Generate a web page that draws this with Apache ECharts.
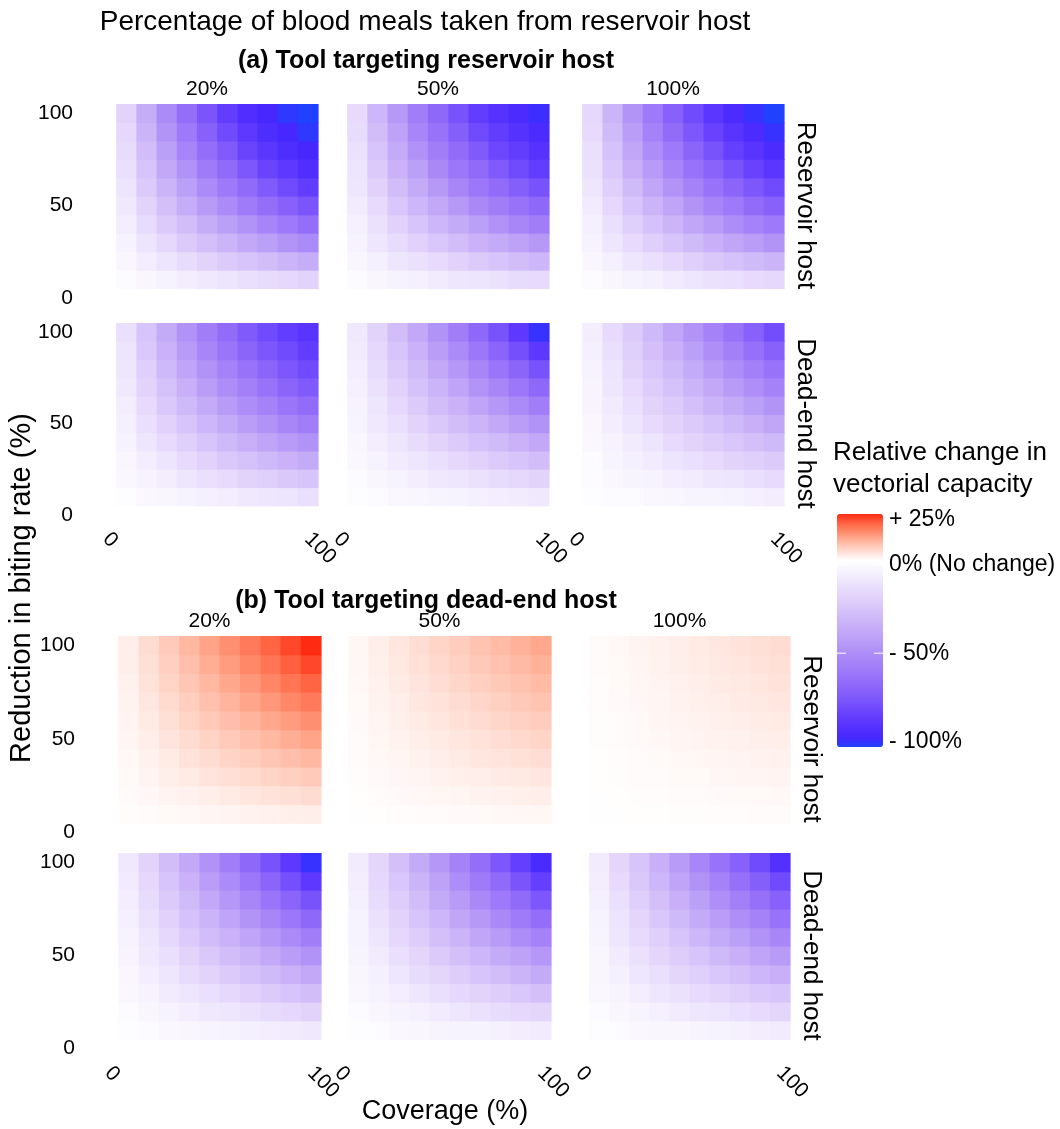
<!DOCTYPE html>
<html><head><meta charset="utf-8">
<script src="https://cdn.jsdelivr.net/npm/echarts@6/dist/echarts.min.js"></script>
<style>html,body{margin:0;padding:0;background:#fff}#c{width:1060px;height:1129px}</style>
</head><body><div id="c"></div>
<script>
// ---------------- data ----------------
const coverage = [0,10,20,30,40,50,60,70,80,90,100];
const reduction = [0,10,20,30,40,50,60,70,80,90,100];
const mealShares = ['20%','50%','100%'];
const hostRows = ['Reservoir host','Dead-end host'];
const sectionTitles = ['(a) Tool targeting reservoir host','(b) Tool targeting dead-end host'];
const xTickValues = [0,100];
const yTickValues = [0,50,100];
const legendValues = [25,0,-50,-100];
const legendLabels = ['+ 25%','0% (No change)','- 50%','- 100%'];

// each grid: rows = reduction 0..100, columns = coverage 0..100 ; value = relative change (%)
const a_res_20 = [
[0,0,0,0,0,0,0,0,0,0,0],
[0,-2,-4,-6,-8,-10,-12,-14,-15,-17,-19],
[0,-4,-8,-12,-15,-19,-23,-26,-29,-33,-36],
[0,-6,-12,-17,-23,-28,-33,-38,-42,-47,-51],
[0,-8,-15,-23,-29,-36,-42,-48,-54,-59,-64],
[0,-10,-19,-28,-36,-44,-51,-58,-64,-70,-75],
[0,-12,-23,-33,-42,-51,-59,-66,-73,-79,-84],
[0,-14,-26,-38,-48,-58,-66,-74,-81,-86,-91],
[0,-15,-29,-42,-54,-64,-73,-81,-87,-92,-95],
[0,-17,-33,-47,-59,-70,-79,-86,-92,-95,-98],
[0,-19,-36,-51,-64,-75,-84,-91,-95,-98,-100]];
const a_res_50 = [
[0,0,0,0,0,0,0,0,0,0,0],
[0,-2,-4,-6,-7,-9,-11,-12,-13,-15,-16],
[0,-4,-7,-11,-13,-16,-20,-23,-26,-29,-32],
[0,-6,-11,-15,-20,-25,-29,-34,-37,-41,-45],
[0,-7,-13,-20,-26,-32,-37,-42,-48,-53,-57],
[0,-9,-16,-25,-32,-38,-45,-52,-57,-62,-67],
[0,-11,-20,-29,-37,-45,-53,-60,-65,-71,-76],
[0,-12,-23,-34,-42,-52,-60,-66,-73,-79,-84],
[0,-13,-26,-37,-48,-57,-65,-73,-80,-84,-89],
[0,-15,-29,-41,-53,-62,-71,-79,-84,-89,-93],
[0,-16,-32,-45,-57,-67,-76,-84,-89,-93,-96]];
const a_res_100 = [
[0,0,0,0,0,0,0,0,0,0,0],
[0,-2,-4,-6,-7,-9,-11,-13,-14,-16,-17],
[0,-4,-7,-11,-14,-17,-21,-24,-27,-30,-33],
[0,-6,-11,-16,-21,-26,-30,-35,-39,-43,-47],
[0,-7,-14,-21,-27,-33,-39,-44,-50,-55,-59],
[0,-9,-17,-26,-33,-40,-47,-54,-59,-65,-70],
[0,-11,-21,-30,-39,-47,-55,-62,-68,-74,-79],
[0,-13,-24,-35,-44,-54,-62,-69,-76,-82,-87],
[0,-14,-27,-39,-50,-59,-68,-76,-83,-88,-93],
[0,-16,-30,-43,-55,-65,-74,-82,-88,-93,-97],
[0,-17,-33,-47,-59,-70,-79,-87,-93,-97,-100]];
const a_dead_20 = [
[0,0,0,0,0,0,0,0,0,0,0],
[0,-1,-3,-4,-6,-7,-8,-10,-11,-12,-14],
[0,-3,-6,-8,-11,-14,-16,-19,-21,-24,-26],
[0,-4,-8,-12,-16,-20,-24,-27,-31,-34,-37],
[0,-6,-11,-16,-21,-26,-31,-35,-40,-44,-48],
[0,-7,-14,-20,-26,-32,-37,-43,-48,-53,-57],
[0,-8,-16,-24,-31,-37,-44,-50,-55,-61,-65],
[0,-10,-19,-27,-35,-43,-50,-56,-62,-68,-73],
[0,-11,-21,-31,-40,-48,-55,-62,-68,-74,-79],
[0,-12,-24,-34,-44,-53,-61,-68,-74,-79,-84],
[0,-14,-26,-37,-48,-57,-65,-73,-79,-84,-88]];
const a_dead_50 = [
[0,0,0,0,0,0,0,0,0,0,0],
[0,-1,-2,-3,-4,-5,-6,-7,-8,-9,-10],
[0,-2,-4,-6,-8,-10,-11,-13,-15,-17,-19],
[0,-3,-6,-9,-11,-14,-17,-20,-23,-26,-29],
[0,-4,-8,-11,-15,-19,-23,-27,-30,-34,-38],
[0,-5,-10,-14,-19,-24,-29,-33,-38,-43,-48],
[0,-6,-11,-17,-23,-29,-34,-40,-46,-51,-57],
[0,-7,-13,-20,-27,-33,-40,-47,-53,-60,-67],
[0,-8,-15,-23,-30,-38,-46,-53,-61,-68,-76],
[0,-9,-17,-26,-34,-43,-51,-60,-68,-77,-86],
[0,-10,-19,-29,-38,-48,-57,-67,-76,-86,-97]];
const a_dead_100 = [
[0,0,0,0,0,0,0,0,0,0,0],
[0,-1,-2,-2,-3,-4,-5,-5,-6,-7,-8],
[0,-2,-3,-5,-6,-8,-9,-11,-12,-14,-16],
[0,-2,-5,-7,-9,-12,-14,-16,-19,-21,-23],
[0,-3,-6,-9,-12,-16,-19,-22,-25,-28,-31],
[0,-4,-8,-12,-16,-20,-23,-27,-31,-35,-39],
[0,-5,-9,-14,-19,-23,-28,-33,-37,-42,-47],
[0,-5,-11,-16,-22,-27,-33,-38,-44,-49,-55],
[0,-6,-12,-19,-25,-31,-37,-44,-50,-56,-62],
[0,-7,-14,-21,-28,-35,-42,-49,-56,-63,-70],
[0,-8,-16,-23,-31,-39,-47,-55,-62,-70,-78]];
const b_res_20 = [
[0,0,0,0,0,0,0,0,0,0,0],
[0,0.3,0.5,0.8,1,1.3,1.5,1.8,2,2.3,2.5],
[0,0.5,1,1.5,2,2.5,3,3.5,4,4.5,5],
[0,0.8,1.5,2.3,3,3.8,4.5,5.3,6,6.8,7.5],
[0,1,2,3,4,5,6,7,8,9,10],
[0,1.3,2.5,3.8,5,6.3,7.5,8.8,10,11.3,12.5],
[0,1.5,3,4.5,6,7.5,9,10.5,12,13.5,15],
[0,1.8,3.5,5.3,7,8.8,10.5,12.3,14,15.8,17.5],
[0,2,4,6,8,10,12,14,16,18,20],
[0,2.3,4.5,6.8,9,11.3,13.5,15.8,18,20.3,22.5],
[0,2.5,5,7.5,10,12.5,15,17.5,20,22.5,25]];
const b_res_50 = [
[0,0,0,0,0,0,0,0,0,0,0],
[0,0.1,0.2,0.4,0.5,0.6,0.7,0.8,1,1.1,1.2],
[0,0.2,0.5,0.7,1,1.2,1.4,1.7,1.9,2.2,2.4],
[0,0.4,0.7,1.1,1.4,1.8,2.2,2.5,2.9,3.2,3.6],
[0,0.5,1,1.4,1.9,2.4,2.9,3.4,3.8,4.3,4.8],
[0,0.6,1.2,1.8,2.4,3,3.6,4.2,4.8,5.4,6],
[0,0.7,1.4,2.2,2.9,3.6,4.3,5,5.8,6.5,7.2],
[0,0.8,1.7,2.5,3.4,4.2,5,5.9,6.7,7.6,8.4],
[0,1,1.9,2.9,3.8,4.8,5.8,6.7,7.7,8.6,9.6],
[0,1.1,2.2,3.2,4.3,5.4,6.5,7.6,8.6,9.7,10.8],
[0,1.2,2.4,3.6,4.8,6,7.2,8.4,9.6,10.8,12]];
const b_res_100 = [
[0,0,0,0,0,0,0,0,0,0,0],
[0,0.1,0.1,0.2,0.2,0.3,0.3,0.4,0.4,0.5,0.5],
[0,0.1,0.2,0.3,0.4,0.5,0.6,0.7,0.8,0.9,1],
[0,0.2,0.3,0.5,0.6,0.8,0.9,1.1,1.2,1.4,1.5],
[0,0.2,0.4,0.6,0.8,1,1.2,1.4,1.6,1.8,2],
[0,0.3,0.5,0.8,1,1.3,1.5,1.8,2,2.3,2.5],
[0,0.3,0.6,0.9,1.2,1.5,1.8,2.1,2.4,2.7,3],
[0,0.4,0.7,1.1,1.4,1.8,2.1,2.5,2.8,3.2,3.5],
[0,0.4,0.8,1.2,1.6,2,2.4,2.8,3.2,3.6,4],
[0,0.5,0.9,1.4,1.8,2.3,2.7,3.2,3.6,4.1,4.5],
[0,0.5,1,1.5,2,2.5,3,3.5,4,4.5,5]];
const b_dead_20 = [
[0,0,0,0,0,0,0,0,0,0,0],
[0,-1,-2,-3,-4,-5,-6,-7,-8,-9,-10],
[0,-2,-4,-6,-8,-10,-11,-13,-15,-17,-19],
[0,-3,-6,-9,-11,-14,-17,-20,-23,-26,-29],
[0,-4,-8,-11,-15,-19,-23,-27,-30,-34,-38],
[0,-5,-10,-14,-19,-24,-29,-33,-38,-43,-48],
[0,-6,-11,-17,-23,-29,-34,-40,-46,-51,-57],
[0,-7,-13,-20,-27,-33,-40,-47,-53,-60,-67],
[0,-8,-15,-23,-30,-38,-46,-53,-61,-68,-76],
[0,-9,-17,-26,-34,-43,-51,-60,-68,-77,-86],
[0,-10,-19,-29,-38,-48,-57,-67,-76,-86,-97]];
const b_dead_50 = [
[0,0,0,0,0,0,0,0,0,0,0],
[0,-1,-2,-3,-4,-5,-6,-6,-7,-8,-9],
[0,-2,-4,-6,-7,-9,-11,-13,-15,-17,-18],
[0,-3,-6,-8,-11,-14,-17,-19,-22,-25,-28],
[0,-4,-7,-11,-15,-18,-22,-26,-29,-33,-37],
[0,-5,-9,-14,-18,-23,-28,-32,-37,-41,-46],
[0,-6,-11,-17,-22,-28,-33,-39,-44,-50,-55],
[0,-6,-13,-19,-26,-32,-39,-45,-52,-58,-64],
[0,-7,-15,-22,-29,-37,-44,-52,-59,-66,-74],
[0,-8,-17,-25,-33,-41,-50,-58,-66,-75,-83],
[0,-9,-18,-28,-37,-46,-55,-64,-74,-83,-94]];
const b_dead_100 = [
[0,0,0,0,0,0,0,0,0,0,0],
[0,-1,-2,-3,-4,-4,-5,-6,-7,-8,-9],
[0,-2,-4,-5,-7,-9,-11,-12,-14,-16,-18],
[0,-3,-5,-8,-11,-13,-16,-18,-21,-24,-26],
[0,-4,-7,-11,-14,-18,-21,-25,-28,-32,-35],
[0,-4,-9,-13,-18,-22,-26,-31,-35,-40,-44],
[0,-5,-11,-16,-21,-26,-32,-37,-42,-48,-53],
[0,-6,-12,-18,-25,-31,-37,-43,-49,-55,-62],
[0,-7,-14,-21,-28,-35,-42,-49,-56,-63,-70],
[0,-8,-16,-24,-32,-40,-48,-55,-63,-71,-79],
[0,-9,-18,-26,-35,-44,-53,-62,-70,-79,-90]];

const panelGrids = [
  [[a_res_20, a_res_50, a_res_100], [a_dead_20, a_dead_50, a_dead_100]],
  [[b_res_20, b_res_50, b_res_100], [b_dead_20, b_dead_50, b_dead_100]]
];

// ---------------- layout / style ----------------
const FONT = '"Liberation Sans", Arial, Helvetica, sans-serif';
const colX = [[96,327,562],[98,328,569]];
const colW = [[222,222,222],[223,223,221]];
const rowY = [[104,323],[636,853]];
const rowH = [[203,201],[206,205]];
const halfX = (coverage[1]-coverage[0])/2, halfY = (reduction[1]-reduction[0])/2;
const X_MIN = coverage[0]-halfX, X_MAX = coverage[coverage.length-1]+halfX;
const Y_MIN = reduction[0]-halfY, Y_MAX = reduction[reduction.length-1]+halfY;

// colour ramp: -100 .. +25 in steps of 5 (blue - white - red)
const RAMP = ['#2042ff','#4628ff','#5430ff','#603afe','#6d47fd','#7b55fb','#8761fa','#926cf9','#9c77f9','#a582f8',
  '#ad8df7','#b699f7','#bfa4f8','#c8aff8','#d0bbf9','#d9c6fa','#e1d1fb','#e8dcfc','#f0e9fd','#f7f4fe',
  '#ffffff','#ffdcd2','#ffb8a2','#ff8f70','#ff6443','#ff2a12'];

const grids = [], xAxes = [], yAxes = [], series = [];
let g = 0;
for (let s = 0; s < 2; s++) {
  for (let h = 0; h < 2; h++) {
    for (let m = 0; m < 3; m++) {
      grids.push({left: colX[s][m], top: rowY[s][h], width: colW[s][m], height: rowH[s][h]});
      xAxes.push({gridIndex: g, type: 'value', min: X_MIN, max: X_MAX,
        axisLine: {show: false}, axisTick: {show: false}, splitLine: {show: false},
        axisLabel: {show: h === 1, customValues: xTickValues, rotate: -45, margin: 12,
          fontSize: 21, color: '#000', fontFamily: FONT}});
      yAxes.push({gridIndex: g, type: 'value', min: Y_MIN, max: Y_MAX,
        axisLine: {show: false}, axisTick: {show: false}, splitLine: {show: false},
        axisLabel: {show: m === 0, customValues: yTickValues, margin: 23,
          fontSize: 21, color: '#000', fontFamily: FONT}});
      const grid = panelGrids[s][h][m];
      const data = [];
      reduction.forEach((r, j) => coverage.forEach((c, i) => data.push([c, r, grid[j][i]])));
      series.push({type: 'custom', xAxisIndex: g, yAxisIndex: g, data: data,
        encode: {x: 0, y: 1}, silent: true,
        renderItem: function (params, api) {
          const c = api.value(0), r = api.value(1);
          const p0 = api.coord([c - halfX, r + halfY]), p1 = api.coord([c + halfX, r - halfY]);
          return {type: 'rect', shape: {x: p0[0], y: p0[1], width: p1[0]-p0[0]+0.6, height: p1[1]-p0[1]+0.6},
            style: {fill: api.visual('color')}};
        }});
      g++;
    }
  }
}

const BAR_L = 837, BAR_T = 514, BAR_W = 46, BAR_H = 233;
const LAB_TOP = 520, LAB_BOT = 742;
const valY = v => LAB_TOP + (25 - v) / 125 * (LAB_BOT - LAB_TOP);

const graphics = [];
const txt = (x, y, text, opt) => graphics.push(Object.assign({type: 'text', x: x, y: y,
  style: Object.assign({text: text, fill: '#000', font: (opt && opt.font) || ('21px ' + FONT),
    textAlign: 'center', textVerticalAlign: 'middle'}, opt && opt.style)}, opt && opt.el));

txt(425, 22, 'Percentage of blood meals taken from reservoir host', {font: '28px ' + FONT});
for (let s = 0; s < 2; s++) {
  txt(426, s === 0 ? 61 : 601, sectionTitles[s], {font: 'bold 25px ' + FONT});
  for (let m = 0; m < 3; m++) {
    txt(colX[s][m] + colW[s][m] / 2, rowY[s][0] - 15, mealShares[m], {font: '21px ' + FONT});
  }
  for (let h = 0; h < 2; h++) {
    txt(colX[s][2] + colW[s][2] + 21, rowY[s][h] + rowH[s][h] / 2, hostRows[h],
      {font: '26px ' + FONT, el: {rotation: -Math.PI / 2}});
  }
}
txt(22, 588, 'Reduction in biting rate (%)', {font: '29px ' + FONT, el: {rotation: Math.PI / 2}});
txt(445, 1112, 'Coverage (%)', {font: '27px ' + FONT});
txt(833, 453, 'Relative change in', {font: '26px ' + FONT, style: {textAlign: 'left'}});
txt(833, 485, 'vectorial capacity', {font: '26px ' + FONT, style: {textAlign: 'left'}});
legendValues.forEach((v, k) => {
  txt(889, valY(v), legendLabels[k], {font: '23px ' + FONT, style: {textAlign: 'left'}});
  if (v < 25 && v > -100) {
    graphics.push({type: 'line', shape: {x1: BAR_L, y1: valY(v), x2: BAR_L + 9, y2: valY(v)}, style: {stroke: '#fff', lineWidth: 1}, z: 100});
    graphics.push({type: 'line', shape: {x1: BAR_L + BAR_W - 9, y1: valY(v), x2: BAR_L + BAR_W, y2: valY(v)}, style: {stroke: '#fff', lineWidth: 1}, z: 100});
  }
});

const chart = echarts.init(document.getElementById('c'), null, {renderer: 'canvas'});
chart.setOption({
  backgroundColor: '#fff',
  animation: false,
  grid: grids, xAxis: xAxes, yAxis: yAxes, series: series,
  visualMap: {type: 'continuous', min: -100, max: 25, dimension: 2,
    seriesIndex: series.map((_, i) => i), calculable: false, hoverLink: false,
    orient: 'vertical', left: BAR_L, top: BAR_T, itemWidth: BAR_W, itemHeight: BAR_H,
    padding: 0, text: null, showLabel: false,
    inRange: {color: RAMP}},
  graphic: graphics
});
</script></body></html>
